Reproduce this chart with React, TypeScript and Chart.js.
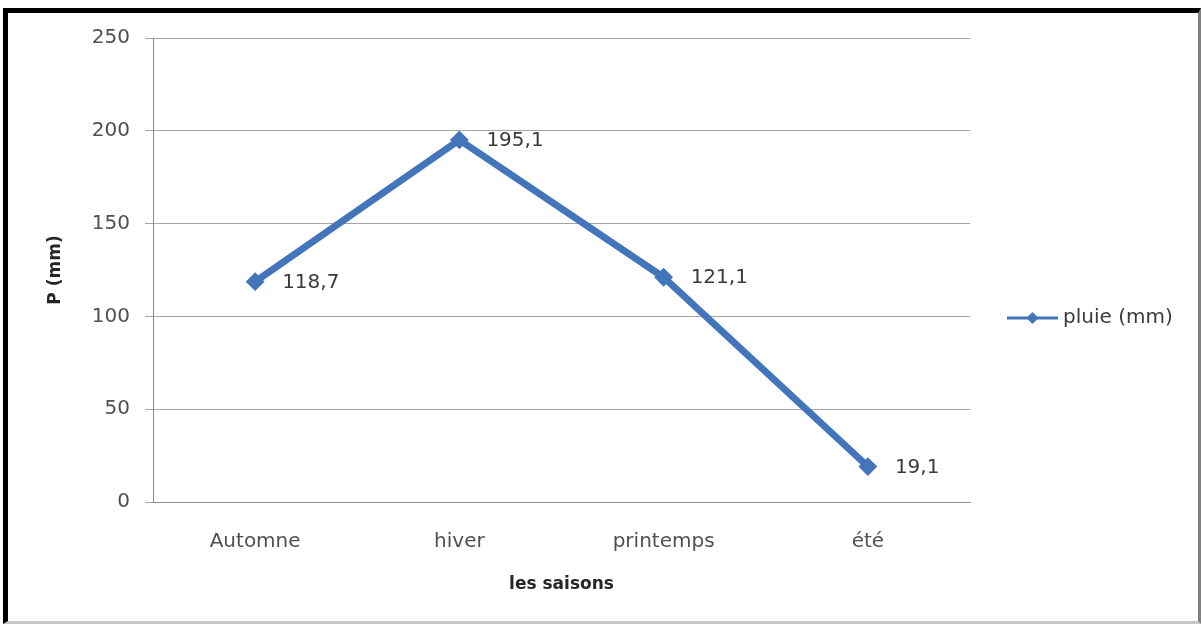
import React, { useEffect, useRef } from "react";
import { Chart, registerables } from "chart.js";

Chart.register(...registerables);

// Seasonal rainfall (mm)
const seasons: string[] = ["Automne", "hiver", "printemps", "été"];
const rainfall: number[] = [118.7, 195.1, 121.1, 19.1];
const seriesName = "pluie (mm)";
const yTicksMax = 250;
const yTickStep = 50;

const FONT = "'DejaVu Sans', 'Open Sans', sans-serif";
const LINE_COLOR = "#4275BA";

const fmt = (v: number) => v.toFixed(1).replace(".", ",");

// Value labels to the right of each marker
const valueLabels = {
  id: "valueLabels",
  afterDatasetsDraw(chart: any) {
    const ctx = chart.ctx;
    const meta = chart.getDatasetMeta(0);
    const data = chart.data.datasets[0].data as number[];
    ctx.save();
    ctx.font = `20px ${FONT}`;
    ctx.fillStyle = "#3a3a3a";
    ctx.textAlign = "left";
    ctx.textBaseline = "middle";
    meta.data.forEach((pt: any, i: number) => {
      ctx.fillText(fmt(data[i]), pt.x + 27, pt.y + 1);
    });
    ctx.restore();
  },
};

// Legend on the right: line sample with diamond marker, then series name
const sideLegend = {
  id: "sideLegend",
  afterDraw(chart: any) {
    const ctx = chart.ctx;
    const area = chart.chartArea;
    const y = chart.height / 2 + 6;
    const x0 = area.right + 37;
    const x1 = x0 + 51;
    ctx.save();
    ctx.strokeStyle = LINE_COLOR;
    ctx.lineWidth = 3;
    ctx.beginPath();
    ctx.moveTo(x0, y);
    ctx.lineTo(x1, y);
    ctx.stroke();
    const cx = (x0 + x1) / 2;
    const r = 6;
    ctx.fillStyle = LINE_COLOR;
    ctx.beginPath();
    ctx.moveTo(cx, y - r);
    ctx.lineTo(cx + r, y);
    ctx.lineTo(cx, y + r);
    ctx.lineTo(cx - r, y);
    ctx.closePath();
    ctx.fill();
    ctx.font = `20px ${FONT}`;
    ctx.fillStyle = "#3a3a3a";
    ctx.textAlign = "left";
    ctx.textBaseline = "middle";
    ctx.fillText(seriesName, x1 + 5, y);
    ctx.restore();
  },
};

export default function App() {
  const canvasRef = useRef<HTMLCanvasElement | null>(null);

  useEffect(() => {
    if (!canvasRef.current) return;
    const chart = new Chart(canvasRef.current, {
      type: "line",
      data: {
        labels: seasons,
        datasets: [
          {
            label: seriesName,
            data: rainfall,
            borderColor: LINE_COLOR,
            backgroundColor: LINE_COLOR,
            borderWidth: 7,
            pointStyle: "rectRot",
            pointRadius: 8,
            pointBackgroundColor: LINE_COLOR,
            pointBorderColor: LINE_COLOR,
            pointBorderWidth: 2,
            tension: 0,
            fill: false,
          },
        ],
      },
      options: {
        responsive: false,
        animation: false,
        devicePixelRatio: 1,
        layout: { padding: { left: 0, top: 38, right: 231, bottom: 0 } },
        plugins: {
          legend: { display: false },
          tooltip: { enabled: false },
        },
        scales: {
          x: {
            offset: true,
            grid: { display: false, drawTicks: false },
            border: { display: true, color: "#8c8c8c", width: 1 },
            ticks: {
              padding: 28,
              color: "#505050",
              font: { family: FONT, size: 20 },
            },
            title: {
              display: true,
              text: "les saisons",
              color: "#262626",
              font: { family: FONT, size: 17, weight: "bold" },
              padding: { top: 0, bottom: 29 },
            },
            afterFit: (s: any) => {
              s.height = 122;
            },
          },
          y: {
            min: 0,
            max: yTicksMax,
            grid: {
              color: "#a6a6a6",
              lineWidth: 1,
              drawTicks: true,
              tickLength: 8,
            },
            border: { display: true, color: "#8c8c8c", width: 1 },
            ticks: {
              stepSize: yTickStep,
              padding: 15,
              color: "#505050",
              font: { family: FONT, size: 20 },
            },
            title: {
              display: true,
              text: "P (mm)",
              color: "#262626",
              font: { family: FONT, size: 17, weight: "bold" },
              padding: { top: 45, bottom: 0 },
            },
            afterFit: (s: any) => {
              s.width = 153;
            },
          },
        },
      },
      plugins: [valueLabels, sideLegend],
    });
    return () => chart.destroy();
  }, []);

  return (
    <div
      style={{
        position: "fixed",
        left: 0,
        top: 0,
        width: 1201,
        height: 624,
        background: "#ffffff",
        overflow: "hidden",
      }}
    >
      <div
        style={{
          position: "absolute",
          left: 3,
          top: 8,
          width: 1198,
          height: 616,
          boxSizing: "border-box",
          borderLeft: "5px solid #000000",
          borderTop: "5px solid #000000",
          borderRight: "3px solid #808080",
          borderBottom: "3px solid #c8c8c8",
        }}
      />
      <canvas
        ref={canvasRef}
        width={1201}
        height={624}
        style={{ position: "absolute", left: 0, top: 0, width: 1201, height: 624 }}
      />
    </div>
  );
}
